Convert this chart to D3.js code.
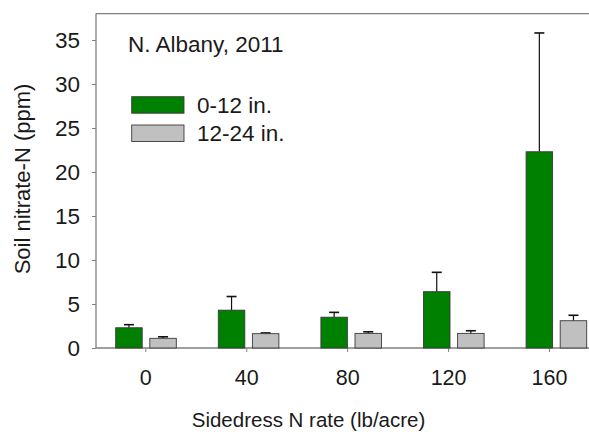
<!DOCTYPE html>
<html>
<head>
<meta charset="utf-8">
<script src="https://cdn.jsdelivr.net/npm/d3@7"></script>
<style>
  body { margin: 0; background: #fff; }
  text { font-family: Arial, "Liberation Sans", sans-serif; fill: #1a1a1a; }
</style>
</head>
<body>
<svg id="chart" width="589" height="435"></svg>
<script>
// ---- data ----
const categories = ["0", "40", "80", "120", "160"];
const seriesNames = ["0-12 in.", "12-24 in."];
const shallowMeans = [2.3, 4.3, 3.5, 6.4, 22.3];
const shallowErr   = [0.35, 1.55, 0.55, 2.2, 13.5];
const deepMeans    = [1.1, 1.63, 1.66, 1.66, 3.1];
const deepErr      = [0.17, 0.08, 0.18, 0.3, 0.62];
const yTicks = [0, 5, 10, 15, 20, 25, 30, 35];
const seriesColors = ["#008000", "#c0c0c0"];

const svg = d3.select("#chart");

const y = d3.scaleLinear().domain([0, 38]).range([348, 13.6]);
const xTick = d3.scalePoint().domain(categories).range([145.3, 549]);
const xBar = d3.scalePoint().domain(categories).range([146, 556.4]);
const xSub = d3.scaleBand().domain(seriesNames).range([-30.3, 30.3]).paddingInner(0.223);
const color = d3.scaleOrdinal().domain(seriesNames).range(seriesColors);

const axisColor = "#7f7f7f";
const FONT = "Arial, 'Liberation Sans', sans-serif";

// frame top line
svg.append("line")
  .attr("x1", 96).attr("x2", 589)
  .attr("y1", y.range()[1]).attr("y2", y.range()[1])
  .attr("stroke", axisColor).attr("stroke-width", 1.3);

// y axis
const yAxis = svg.append("g").attr("transform", "translate(96,0)")
  .call(d3.axisLeft(y).tickValues(yTicks).tickSize(4).tickPadding(12));
yAxis.select(".domain").attr("stroke", axisColor).attr("stroke-width", 1.3)
  .attr("d", `M0,${y(0)}V${y.range()[1]}`);
yAxis.selectAll(".tick line").attr("stroke", axisColor);
yAxis.selectAll(".tick text").attr("font-size", 22.5).attr("fill", "#1a1a1a")
  .attr("font-family", FONT);

// x axis
const xAxis = svg.append("g").attr("transform", `translate(0,${y(0)})`)
  .call(d3.axisBottom(xTick).tickSize(4).tickPadding(18));
xAxis.select(".domain").attr("stroke", axisColor).attr("stroke-width", 1.3)
  .attr("d", "M96,0H589");
xAxis.selectAll(".tick line").attr("stroke", axisColor);
xAxis.selectAll(".tick text").attr("font-size", 21.5).attr("fill", "#1a1a1a")
  .attr("font-family", FONT);

// bars
const rows = [];
categories.forEach((c, i) => {
  rows.push({cat: c, s: seriesNames[0], v: shallowMeans[i], e: shallowErr[i]});
  rows.push({cat: c, s: seriesNames[1], v: deepMeans[i], e: deepErr[i]});
});

const g = svg.append("g");
rows.forEach(d => {
  const cx = xBar(d.cat) + xSub(d.s) + xSub.bandwidth() / 2;
  g.append("line")
    .attr("x1", cx).attr("x2", cx)
    .attr("y1", y(d.v)).attr("y2", y(d.v + d.e))
    .attr("stroke", "#111").attr("stroke-width", 1.2);
  g.append("line")
    .attr("x1", cx - 5).attr("x2", cx + 5)
    .attr("y1", y(d.v + d.e)).attr("y2", y(d.v + d.e))
    .attr("stroke", "#111").attr("stroke-width", 1.6);
});
g.selectAll("rect.bar").data(rows).join("rect")
  .attr("class", "bar")
  .attr("x", d => xBar(d.cat) + xSub(d.s))
  .attr("width", xSub.bandwidth())
  .attr("y", d => y(d.v))
  .attr("height", d => y(0) - y(d.v))
  .attr("fill", d => color(d.s))
  .attr("stroke", "#3a3a3a").attr("stroke-width", 0.9);

// title inside plot
svg.append("text").attr("x", 128).attr("y", 52)
  .attr("font-size", 22.5).text("N. Albany, 2011");

// legend
const legend = svg.append("g");
const legY = [96.7, 125];
seriesNames.forEach((s, i) => {
  legend.append("rect")
    .attr("x", 131.7).attr("y", legY[i])
    .attr("width", 52.3).attr("height", 16.5)
    .attr("fill", color(s)).attr("stroke", "#3a3a3a").attr("stroke-width", 0.9);
  legend.append("text")
    .attr("x", 197).attr("y", legY[i] + 16)
    .attr("font-size", 22.5).text(s);
});

// axis titles
svg.append("text")
  .attr("transform", "translate(30,179) rotate(-90)")
  .attr("text-anchor", "middle").attr("font-size", 22)
  .text("Soil nitrate-N (ppm)");
svg.append("text")
  .attr("x", 308.5).attr("y", 427)
  .attr("text-anchor", "middle").attr("font-size", 20.5)
  .text("Sidedress N rate (lb/acre)");
</script>
</body>
</html>
